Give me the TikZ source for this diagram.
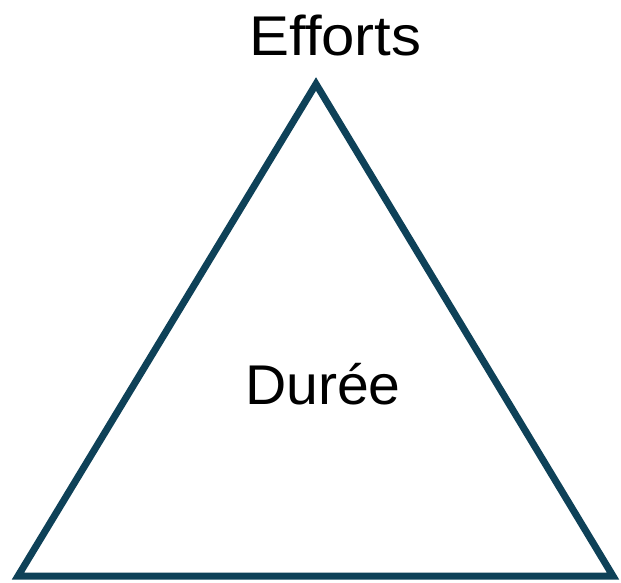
\documentclass[tikz,border=0pt]{standalone}
\usepackage{fontspec}
\setmainfont{Liberation Sans}
\definecolor{tealdark}{RGB}{14,65,88}
\begin{document}
\begin{tikzpicture}[x=1pt,y=-1pt,
  lbl/.style={font=\fontsize{56}{60}\selectfont, inner sep=0pt, anchor=base},
  tri/.style={draw=tealdark, line width=7pt, line join=miter}]
\useasboundingbox (0,0) rectangle (621,582);
\coordinate (top) at (316,84);
\coordinate (bl) at (18,576);
\coordinate (br) at (613,576);
\draw[tri] (top) -- (bl) -- (br) -- cycle;
\node[lbl] (efforts) at (335.5,55) {\scalebox{1.07}[1]{Efforts}};
\node[lbl] (duree) at (323,404) {\scalebox{1.02}[1]{Durée}};
\end{tikzpicture}
\end{document}
